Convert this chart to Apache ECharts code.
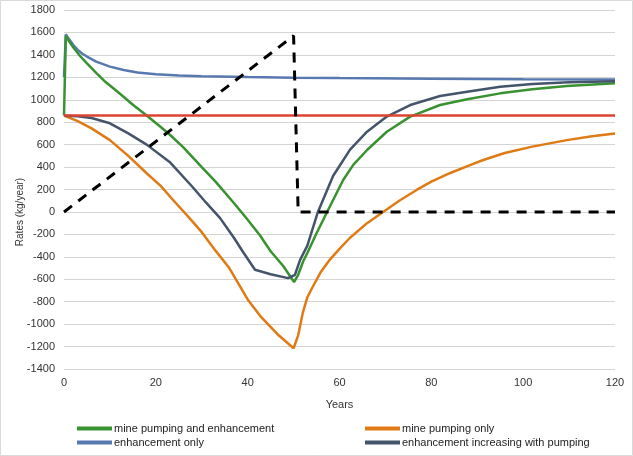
<!DOCTYPE html>
<html>
<head>
<meta charset="utf-8">
<script src="https://cdn.jsdelivr.net/npm/echarts@6/dist/echarts.min.js"></script>
<style>
html,body{margin:0;padding:0;background:#fff;}
#chart{width:633px;height:456px;}
</style>
</head>
<body>
<div id="chart"></div>
<script>
// Data (x = years, y = rate in kg/year)
var xTicks = [0, 20, 40, 60, 80, 100, 120];
var yTicks = [-1400, -1200, -1000, -800, -600, -400, -200, 0, 200, 400, 600, 800, 1000, 1200, 1400, 1600, 1800];

var minePumpingAndEnhancement = [[0,860],[0.4,1570],[1,1528],[2,1468],[3.5,1390],[5,1325],[7,1240],[9,1160],[12,1060],[15,955],[18,860],[21,760],[23,690],[26,575],[30,400],[33,270],[37,80],[40,-70],[42.7,-210],[45,-350],[47.7,-480],[50.1,-625],[51,-560],[52.1,-440],[53,-366],[55,-190],[57.3,0],[60.8,285],[63,420],[66,552],[70.3,715],[75.4,850],[81.9,953],[87.8,1004],[95,1057],[102,1093],[109.5,1122],[120,1147]];

var minePumpingOnly = [[0,858],[3,810],[6,745],[10,640],[14,500],[18,345],[21,235],[24,95],[27,-40],[30,-180],[33,-345],[36,-500],[40,-780],[43,-940],[46.5,-1090],[50,-1215],[51,-1100],[52,-900],[53,-760],[54,-680],[56,-530],[58,-420],[60,-330],[62.3,-230],[66,-100],[69.5,0],[73,100],[76.8,196],[80,270],[84,345],[88,410],[91.3,463],[96,525],[102,582],[109.5,640],[115,675],[120,700]];

var enhancementOnly = [[0,1200],[0.4,1583],[1,1545],[2,1490],[3,1445],[4,1410],[5,1385],[7,1340],[10,1295],[13,1265],[16,1242],[20,1228],[25,1217],[30,1210],[40,1203],[50,1197],[60,1193],[80,1188],[100,1183],[120,1180]];

var enhancementIncreasing = [[0,858],[3,852],[6,837],[10,790],[14,700],[18,600],[23,446],[28,222],[31,80],[34,-55],[37,-230],[39,-357],[41.6,-515],[45,-555],[48.8,-590],[50.3,-560],[51.4,-430],[53,-300],[55.3,0],[58.6,320],[62.3,555],[66,715],[70.3,850],[75.4,953],[81.9,1033],[87.8,1072],[95,1116],[102,1140],[110,1155],[120,1165]];

var baselineRate = [[0,860],[120,860]];
var pumpingSchedule = [[0,0],[50,1570],[51,0],[120,0]];

var names = ['mine pumping and enhancement', 'mine pumping only', 'enhancement only', 'enhancement increasing with pumping'];

var chart = echarts.init(document.getElementById('chart'));
var font = 'Liberation Sans, Arial, sans-serif';
function line(name, data, color, width, type, z) {
  return {
    name: name, type: 'line', data: data, showSymbol: false, symbol: 'none',
    lineStyle: {color: color, width: width, type: type || 'solid'},
    itemStyle: {color: color}, z: z, animation: false
  };
}
function leg(name, left, top) {
  return {
    data: [name], left: left, top: top, padding: 0,
    icon: 'rect', itemWidth: 35, itemHeight: 4, itemGap: 0,
    textStyle: {fontSize: 11, color: '#222', fontFamily: font, padding: [0,0,0,-3]}
  };
}
chart.setOption({
  animation: false,
  backgroundColor: '#fff',
  textStyle: {fontFamily: font},
  grid: {left: 64, right: 18, top: 10, bottom: 87},
  xAxis: {
    type: 'value', min: 0, max: 120, interval: 20,
    name: 'Years', nameLocation: 'middle', nameGap: 30,
    nameTextStyle: {fontSize: 11, color: '#333', fontFamily: font},
    axisLine: {show: false}, axisTick: {show: false},
    splitLine: {show: false},
    axisLabel: {fontSize: 11, color: '#333', margin: 8, fontFamily: font, formatter: function (v) { return String(v); }}
  },
  yAxis: {
    type: 'value', min: -1400, max: 1800, interval: 200,
    axisLine: {show: false}, axisTick: {show: false},
    splitLine: {show: true, lineStyle: {color: '#d4d4d4', width: 1}},
    axisLabel: {fontSize: 11, color: '#333', margin: 9, fontFamily: font, formatter: function (v) { return String(v); }}
  },
  legend: [
    leg(names[0], 77, 423),
    leg(names[2], 77, 437),
    leg(names[1], 365, 423),
    leg(names[3], 365, 437)
  ],
  graphic: [
    {type: 'rect', shape: {x: 0.5, y: 0.5, width: 632, height: 455}, style: {fill: 'none', stroke: '#d9d9d9', lineWidth: 1}, silent: true, z: -1},
    {type: 'text', x: 20, y: 212, rotation: Math.PI / 2,
     style: {text: 'Rates (kg/year)', fontSize: 10, fill: '#333', font: '10px Liberation Sans, Arial, sans-serif', textAlign: 'center', textVerticalAlign: 'middle'}}
  ],
  series: [
    line(names[2], enhancementOnly, '#5878b0', 2.5, 'solid', 2),
    line(names[0], minePumpingAndEnhancement, '#38922f', 2.5, 'solid', 3),
    line(names[1], minePumpingOnly, '#e07a14', 2.5, 'solid', 3),
    line(names[3], enhancementIncreasing, '#44546a', 2.5, 'solid', 4),
    line('baseline', baselineRate, '#dc4432', 2.5, 'solid', 5),
    line('pumping', pumpingSchedule, '#000000', 3, [10, 8], 6)
  ]
});
</script>
</body>
</html>
